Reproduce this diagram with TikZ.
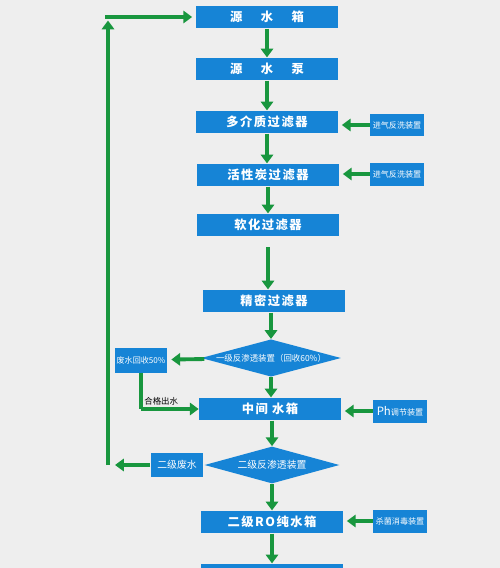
\documentclass[tikz,border=0pt]{standalone}
\usepackage{fontspec}
\newfontfamily\cjk{Noto Sans CJK SC}
\newfontfamily\cjkw{Noto Sans CJK SC}[LetterSpace=12]
\usetikzlibrary{shapes.geometric,arrows.meta,positioning}
\definecolor{bgray}{RGB}{238,238,238}
\definecolor{boxblue}{RGB}{22,132,214}
\definecolor{flowgreen}{RGB}{24,150,62}
\begin{document}
\begin{tikzpicture}[x=0.02cm,y=-0.02cm,
  every node/.style={font=\cjk, inner sep=1pt, align=center},
  mainbox/.style={fill=boxblue,text=white,minimum width=2.84cm,
    minimum height=0.45cm,font=\cjkw\bfseries\fontsize{7}{8}\selectfont},
  sidebox/.style={fill=boxblue,text=white,minimum width=1.08cm,
    minimum height=0.46cm,font=\cjk\fontsize{4.6}{5}\selectfont},
  rodia/.style={diamond,fill=boxblue,text=white,aspect=3.75,inner sep=0pt,
    minimum width=2.7cm,minimum height=0.74cm,font=\cjk\fontsize{4.8}{6}\selectfont},
  flow/.style={draw=flowgreen,line width=2.2pt,
    -{Triangle[width=7pt,length=5pt]}}]
\useasboundingbox[fill=bgray] (0,0) rectangle (500,568);
% main line
\node[mainbox] (src)  at (267,17)  {源\hspace{1.5em}水\hspace{1.5em}箱};
\node[mainbox] (pump) at (267,69)  {源\hspace{1.5em}水\hspace{1.5em}泵};
\node[mainbox] (mmf)  at (267,122) {多介质过滤器};
\node[mainbox] (acf)  at (268,175) {活性炭过滤器};
\node[mainbox] (sof)  at (268,225) {软化过滤器};
\node[mainbox] (prf)  at (274,301) {精密过滤器};
\node[rodia]   (ro1)  at (271,358) {一级反渗透装置（回收60\%）};
\node[mainbox] (mid)  at (270,409) {中间\ 水箱};
\node[rodia]   (ro2)  at (272,465) {\fontsize{5.6}{6}\selectfont 二级反渗透装置};
\node[mainbox] (pure) at (272,522) {二级RO纯水箱};
\node[mainbox] (next) at (272,575) {};
% side units
\node[sidebox] (bw1) at (397,125) {进气反洗装置};
\node[sidebox] (bw2) at (397,174) {进气反洗装置};
\node[sidebox] (ph)  at (400,411) {{\fontsize{6.5}{7}\selectfont Ph}调节装置};
\node[sidebox] (ster) at (400,521) {杀菌消毒装置};
\node[sidebox,minimum width=1.06cm,minimum height=0.5cm] (ww1) at (141,360) {废水回收50\%};
\node[sidebox,minimum width=1.06cm,minimum height=0.48cm,
  font=\cjk\fontsize{5.6}{6}\selectfont] (ww2) at (177,465) {二级废水};
\coordinate (okc) at (141,409);
\coordinate (lc) at (108,465);
\coordinate (lt) at (108,17);
\coordinate (ls) at (105,17);
% connectors
\draw[flow] (src.south) -- (src.south |- pump.north);
\draw[flow] (pump.south) -- (pump.south |- mmf.north);
\draw[flow] (mmf.south) -- (mmf.south |- acf.north);
\draw[flow] (acf.south) -- (acf.south |- sof.north);
\draw[flow,shorten <=6pt] (sof.south) -- (sof.south |- prf.north);
\draw[flow] (ro1.north |- prf.south) -- (ro1.north);
\draw[flow] (ro1.south) -- (ro1.south |- mid.north);
\draw[flow] (ro2.north |- mid.south) -- (ro2.north);
\draw[flow] (ro2.south) -- (ro2.south |- pure.north);
\draw[flow] (pure.south) -- (next.north);
\draw[flow,shorten >=2pt] (bw1) -- (bw1 -| mmf.east);
\draw[flow,shorten >=2pt] (bw2) -- (bw2 -| acf.east);
\draw[flow,shorten >=2pt] (ph) -- (ph -| mid.east);
\draw[flow,shorten >=2pt] (ster) -- (ster -| pure.east);
\draw[flow,shorten >=2pt] (ro1) -- (ww1);
\draw[flow,-] (ww1) -- (okc);
\draw[flow] (okc) -- node[above,text=black,font=\cjk\fontsize{4.8}{5}\selectfont,
  pos=0.35] (ok) {合格出水} (mid);
\draw[flow,shorten >=4pt] (ww2) -- (lc);
\draw[flow,shorten >=2pt] (lc) -- (lt);
\draw[flow,shorten >=2pt] (ls) -- (src);
\end{tikzpicture}
\end{document}
